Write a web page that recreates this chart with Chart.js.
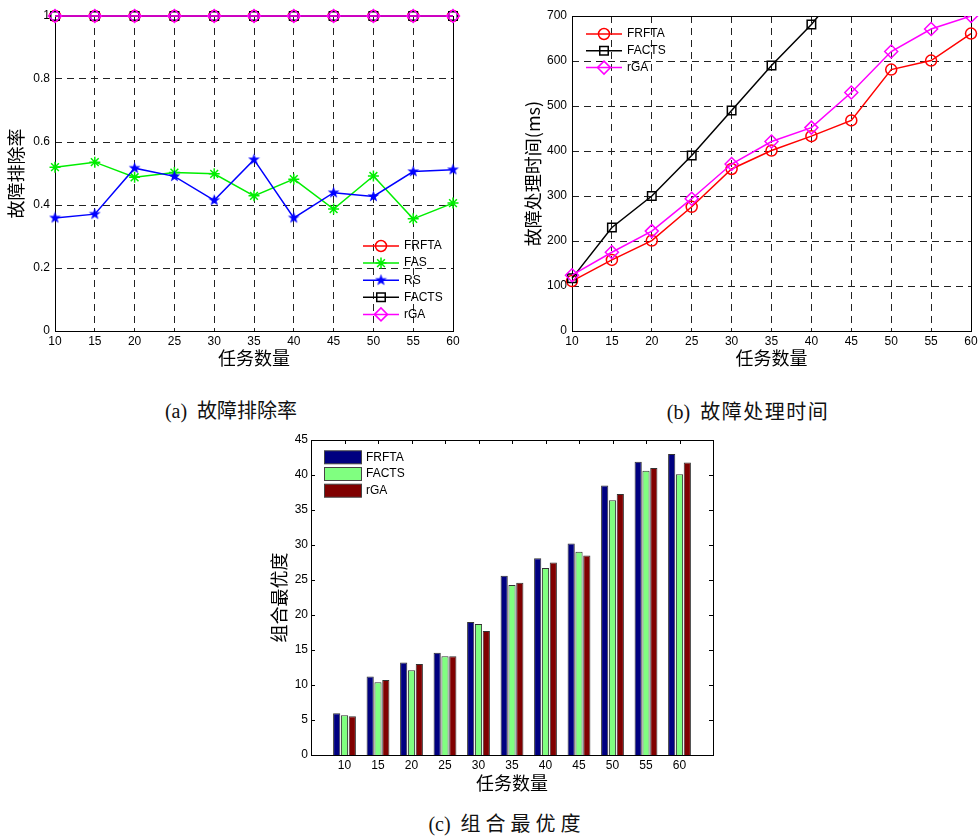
<!DOCTYPE html>
<html>
<head>
<meta charset="utf-8">
<script src="https://cdn.jsdelivr.net/npm/chart.js@4.4.0/dist/chart.umd.min.js"></script>
<style>
    body { margin: 0; background: #fff; width: 979px; height: 838px; position: relative; overflow: hidden; }
    canvas { position: absolute; }
    .cap {
        position: absolute; font-family: 'Liberation Serif', 'Noto Sans CJK SC', serif;
        font-size: 20px; color: #111; white-space: nowrap; transform: translate(-50%, -50%);
    }
</style>
</head>
<body>
<canvas id="chartA" width="470" height="375" style="left:0;top:0;width:470px;height:375px"></canvas>
<canvas id="chartB" width="479" height="375" style="left:500px;top:0;width:479px;height:375px"></canvas>
<canvas id="chartC" width="490" height="380" style="left:250px;top:425px;width:490px;height:380px"></canvas>
<div class="cap" style="left:231px;top:409px">(a)&nbsp; 故障排除率</div>
<div class="cap" style="left:748px;top:410px">(b)&nbsp; <span style="letter-spacing:1.5px">故障处理时间</span></div>
<div class="cap" style="left:507px;top:822px">(c)&nbsp; <span style="letter-spacing:5px">组合最优度</span></div>
<script>
const tasks = [10, 15, 20, 25, 30, 35, 40, 45, 50, 55, 60];

// (a) 故障排除率
const rateFRFTA = [1, 1, 1, 1, 1, 1, 1, 1, 1, 1, 1];
const rateFAS = [0.52, 0.536, 0.488, 0.503, 0.499, 0.429, 0.482, 0.387, 0.492, 0.356, 0.406];
const rateRS = [0.359, 0.371, 0.517, 0.491, 0.415, 0.544, 0.359, 0.439, 0.427, 0.506, 0.512];
const rateFACTS = [1, 1, 1, 1, 1, 1, 1, 1, 1, 1, 1];
const rateRGA = [1, 1, 1, 1, 1, 1, 1, 1, 1, 1, 1];
const rateTicks = [0, 0.2, 0.4, 0.6, 0.8, 1];

// (b) 故障处理时间 (ms)
const timeFRFTA = [111, 158, 201, 276, 360, 401, 433, 468, 581, 601, 661];
const timeFACTS = [117, 230, 300, 390, 490, 590, 681, 790, null, null, null]; // runs off the top after 40
const timeRGA = [124, 175, 222, 294, 371, 421, 452, 530, 621, 671, 700];
const timeTicks = [0, 100, 200, 300, 400, 500, 600, 700];

// (c) 组合最优度
const scoreFRFTA = [5.95, 11.2, 13.2, 14.6, 19.0, 25.6, 28.1, 30.2, 38.5, 41.9, 43.0];
const scoreFACTS = [5.67, 10.4, 12.1, 14.1, 18.7, 24.3, 26.7, 29.05, 36.4, 40.6, 40.1];
const scoreRGA = [5.52, 10.7, 13.0, 14.1, 17.7, 24.6, 27.5, 28.5, 37.3, 41.0, 41.8];

const tickFont = { family: "'Liberation Sans', Arial, sans-serif", size: 12 };
const titleFont = { family: "'Noto Sans CJK SC', sans-serif", size: 18 };

// filled five-point star for the RS series
function makeStar(color) {
    const c = document.createElement('canvas');
    c.width = 13; c.height = 13;
    const g = c.getContext('2d');
    g.beginPath();
    for (let i = 0; i < 10; i++) {
        const r = i % 2 === 0 ? 6.2 : 2.5;
        const a = -Math.PI / 2 + i * Math.PI / 5;
        g.lineTo(6.5 + r * Math.cos(a), 6.5 + r * Math.sin(a));
    }
    g.closePath();
    g.fillStyle = color;
    g.fill();
    return c;
}
const blueStar = makeStar('#0000ff');

// box round the plot area, with small inward ticks when asked
const framePlugin = {
    id: 'frame',
    beforeDatasetsDraw(chart, args, opts) {
        const { ctx, chartArea: a } = chart;
        ctx.save();
        ctx.strokeStyle = '#000';
        ctx.lineWidth = 1;
        ctx.strokeRect(a.left + 0.5, a.top + 0.5, a.right - a.left, a.bottom - a.top);
        if (opts.ticks) {
            const xs = chart.scales.x, ys = chart.scales.y;
            ctx.beginPath();
            xs.ticks.forEach((t, i) => {
                if (xs.getLabelForValue(t.value) === '') return;
                const px = Math.round(xs.getPixelForTick(i)) + 0.5;
                ctx.moveTo(px, a.bottom); ctx.lineTo(px, a.bottom - 4);
                ctx.moveTo(px, a.top); ctx.lineTo(px, a.top + 4);
            });
            ys.ticks.forEach((t) => {
                const py = Math.round(ys.getPixelForValue(t.value)) + 0.5;
                ctx.moveTo(a.left, py); ctx.lineTo(a.left + 4, py);
                ctx.moveTo(a.right, py); ctx.lineTo(a.right - 4, py);
            });
            ctx.stroke();
        }
        ctx.restore();
    }
};

// legend drawn inside the plot, MATLAB style
const insideLegend = {
    id: 'insideLegend',
    afterDraw(chart, args, opts) {
        const { ctx, chartArea: a } = chart;
        const x0 = a.left + opts.dx, y0 = a.top + opts.dy;
        ctx.save();
        ctx.font = "12px 'Liberation Sans', Arial, sans-serif";
        ctx.textBaseline = 'middle';
        ctx.fillStyle = '#000';
        chart.data.datasets.forEach((ds, i) => {
            const y = y0 + i * opts.rowH;
            if (opts.box) {
                ctx.fillStyle = ds.backgroundColor;
                ctx.fillRect(x0, y - 6.5, opts.len, 13);
                ctx.strokeStyle = '#444';
                ctx.lineWidth = 1;
                ctx.strokeRect(x0 + 0.5, y - 6.5, opts.len, 13);
            } else {
                ctx.strokeStyle = ds.borderColor;
                ctx.lineWidth = ds.borderWidth;
                ctx.beginPath();
                ctx.moveTo(x0, y); ctx.lineTo(x0 + opts.len, y);
                ctx.stroke();
                ctx.fillStyle = ds.pointBackgroundColor;
                ctx.strokeStyle = ds.borderColor;
                Chart.helpers.drawPoint(ctx, {
                    pointStyle: ds.pointStyle, radius: ds.pointRadius, rotation: 0, borderWidth: ds.borderWidth
                }, x0 + opts.len / 2, y);
            }
            ctx.fillStyle = '#000';
            ctx.fillText(ds.label, x0 + opts.len + 5, y);
        });
        ctx.restore();
    }
};

function lineSet(label, data, color, style, radius, clip) {
    return {
        label, data, borderColor: color, borderWidth: 1.5,
        pointStyle: style, pointRadius: radius, pointHoverRadius: radius,
        pointBorderColor: color, pointBackgroundColor: style === blueStar ? color : 'rgba(0,0,0,0)',
        pointBorderWidth: 1.5, tension: 0, clip
    };
}

function lineScales(yTicks, yTitle, titlePad, xHeight, yWidth, xTitlePad) {
    return {
        x: {
            type: 'category', offset: false,
            grid: { color: '#222', lineWidth: 1, drawTicks: false },
            border: { display: false, dash: [7, 5] },
            ticks: { font: tickFont, color: '#000', padding: 3, maxRotation: 0, autoSkip: false },
            title: { display: true, text: '任务数量', font: titleFont, color: '#000', padding: { bottom: xTitlePad } },
            afterFit(s) { s.height = xHeight; s.paddingLeft = 0; s.paddingRight = 0; }
        },
        y: {
            min: yTicks[0], max: yTicks[yTicks.length - 1],
            grid: { color: '#222', lineWidth: 1, drawTicks: false },
            border: { display: false, dash: [7, 5] },
            ticks: { font: tickFont, color: '#000', padding: 5, callback: v => String(v) },
            afterBuildTicks(s) { s.ticks = yTicks.map(v => ({ value: v })); },
            title: { display: true, text: yTitle, font: titleFont, color: '#000', padding: { top: titlePad } },
            afterFit(s) { s.width = yWidth; s.paddingTop = 0; s.paddingBottom = 0; }
        }
    };
}

const baseOpts = {
    responsive: false, animation: false, events: [],
    plugins: { legend: { display: false }, tooltip: { enabled: false } }
};

// (a)
const setsA = [
    lineSet('FRFTA', rateFRFTA, '#ff0000', 'circle', 5.5, false),
    lineSet('FAS', rateFAS, '#00ee00', 'star', 5.5, false),
    lineSet('RS', rateRS, '#0000ff', blueStar, 6, false),
    lineSet('FACTS', rateFACTS, '#000000', 'rect', 6, false),
    lineSet('rGA', rateRGA, '#ff00ff', 'rectRot', 6.5, false)
];
setsA.forEach((d, i) => { d.order = setsA.length - i; });
new Chart(document.getElementById('chartA'), {
    type: 'line',
    data: { labels: tasks, datasets: setsA },
    options: {
        ...baseOpts,
        layout: { padding: { left: 0, top: 16, right: 17, bottom: 0 } },
        scales: lineScales(rateTicks, '故障排除率', 5, 44, 55, 6),
        plugins: { ...baseOpts.plugins, frame: {}, insideLegend: { dx: 308, dy: 230, rowH: 17.1, len: 36 } }
    },
    plugins: [framePlugin, insideLegend]
});

// (b)
const clipB = { left: 10, top: 0, right: 10, bottom: 10 };
const setsB = [
    lineSet('FRFTA', timeFRFTA, '#ff0000', 'circle', 5.5, clipB),
    lineSet('FACTS', timeFACTS, '#000000', 'rect', 6, clipB),
    lineSet('rGA', timeRGA, '#ff00ff', 'rectRot', 6.5, clipB)
];
setsB.forEach((d, i) => { d.order = setsB.length - i; });
new Chart(document.getElementById('chartB'), {
    type: 'line',
    data: { labels: tasks, datasets: setsB },
    options: {
        ...baseOpts,
        layout: { padding: { left: 0, top: 16, right: 5, bottom: 0 } },
        scales: lineScales(timeTicks, '故障处理时间(ms)', 22, 44, 72, 6),
        plugins: { ...baseOpts.plugins, frame: {}, insideLegend: { dx: 14, dy: 18, rowH: 16.8, len: 36 } }
    },
    plugins: [framePlugin, insideLegend]
});

// (c) grouped bars, one empty slot on each side like the original axes
const barLabels = ['', ...tasks.map(String), ''];
const pad = arr => [null, ...arr, null];
function barSet(label, data, color) {
    return {
        label, data: pad(data), backgroundColor: color, borderColor: '#333', borderWidth: 1,
        categoryPercentage: 0.7, barPercentage: 0.92
    };
}
new Chart(document.getElementById('chartC'), {
    type: 'bar',
    data: {
        labels: barLabels,
        datasets: [
            barSet('FRFTA', scoreFRFTA, '#000080'),
            barSet('FACTS', scoreFACTS, '#80ff80'),
            barSet('rGA', scoreRGA, '#800000')
        ]
    },
    options: {
        ...baseOpts,
        layout: { padding: { left: 0, top: 15, right: 27, bottom: 0 } },
        scales: {
            x: {
                type: 'category', offset: false,
                grid: { display: false, drawTicks: false },
                border: { display: false },
                ticks: { font: tickFont, color: '#000', padding: 3, maxRotation: 0, autoSkip: false },
                title: { display: true, text: '任务数量', font: titleFont, color: '#000', padding: { bottom: 11.5 } },
                afterFit(s) { s.height = 50; s.paddingLeft = 0; s.paddingRight = 0; }
            },
            y: {
                min: 0, max: 45,
                grid: { display: false, drawTicks: false },
                border: { display: false },
                ticks: { font: tickFont, color: '#000', padding: 3, stepSize: 5 },
                title: { display: true, text: '组合最优度', font: titleFont, color: '#000', padding: { top: 18 } },
                afterFit(s) { s.width = 61; s.paddingTop = 0; s.paddingBottom = 0; }
            }
        },
        plugins: { ...baseOpts.plugins, frame: { ticks: true }, insideLegend: { dx: 13, dy: 17.3, rowH: 16.7, len: 37, box: true } }
    },
    plugins: [framePlugin, insideLegend]
});
</script>
</body>
</html>
